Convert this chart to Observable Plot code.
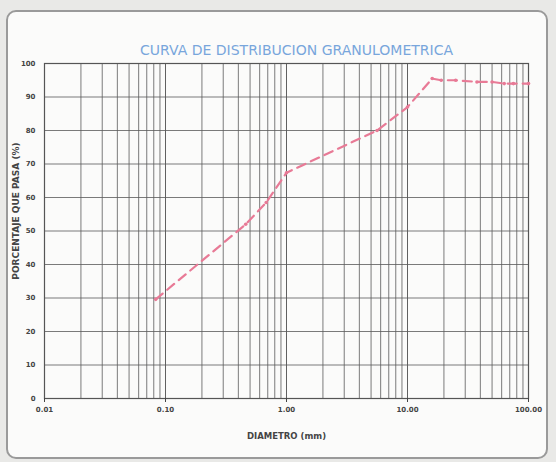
<!DOCTYPE html>
<html>
<head>
<meta charset="utf-8">
<script src="https://cdn.jsdelivr.net/npm/d3@7"></script>
<script src="https://cdn.jsdelivr.net/npm/@observablehq/plot@0.6"></script>
<style>
  html, body { margin: 0; padding: 0; background: #e9e9e7; }
  #wrap { position: relative; width: 556px; height: 462px; overflow: hidden; }
  #card { position: absolute; left: 6px; top: 10px; width: 538px; height: 445px;
          border: 2px solid #9a9a9a; border-radius: 10px; background: #fbfbfa; }
  #chart { position: absolute; left: 0; top: 0; }
</style>
</head>
<body>
<div id="wrap"><div id="card"></div><div id="chart"></div></div>
<script>
// Data
const diametro = [0.083, 0.46, 0.68, 1.0, 5.6, 10, 16, 19, 25, 37.5, 50, 63, 75, 100];
const pasa     = [29.6, 52, 58.5, 67.4, 80, 87, 95.5, 95, 95, 94.5, 94.5, 94, 94, 94];
const xTicks = [0.01, 0.1, 1, 10, 100];
const yTicks = [0, 10, 20, 30, 40, 50, 60, 70, 80, 90, 100];
const title = "CURVA DE DISTRIBUCION GRANULOMETRICA";
const xLabel = "DIAMETRO (mm)";
const yLabel = "PORCENTAJE QUE PASA (%)";

const data = diametro.map((d, i) => ({d, p: pasa[i]}));
const minor = [];
for (const dec of [0.01, 0.1, 1, 10]) for (let k = 1; k <= 10; k++) minor.push(+(dec * k).toPrecision(6));

const chart = Plot.plot({
  width: 556, height: 462,
  marginLeft: 44, marginRight: 28, marginTop: 63, marginBottom: 64,
  style: {background: "transparent", fontFamily: "DejaVu Sans", fontSize: "7px", color: "#444"},
  x: {type: "log", domain: [0.01, 100], label: null},
  y: {domain: [0, 100], label: null},
  marks: [
    Plot.ruleX(minor, {stroke: "#5a5a5a", strokeWidth: 1, strokeOpacity: 0.8}),
    Plot.ruleY(yTicks, {stroke: "#5a5a5a", strokeWidth: 1, strokeOpacity: 0.8}),
    Plot.frame({stroke: "#555", strokeWidth: 1.2}),
    Plot.axisX({ticks: xTicks, tickFormat: d3.format(".2f"), tickSize: 4, label: null, fontWeight: "bold"}),
    Plot.axisY({ticks: yTicks, tickSize: 0, label: null, fontWeight: "bold"}),
    Plot.line(data, {x: "d", y: "p", stroke: "#e87a96", strokeWidth: 2.2, strokeDasharray: "9,6"}),
    Plot.dot(data, {x: "d", y: "p", r: 1.8, fill: "#e87a96"}),
    Plot.text([title], {frameAnchor: "top", dy: -18, dx: 10, fill: "#78a6dc", fontSize: 14, fontFamily: "DejaVu Sans"}),
    Plot.text([xLabel], {frameAnchor: "bottom", dy: 40, fill: "#444", fontSize: 8.5, fontWeight: "bold"}),
    Plot.text([yLabel], {frameAnchor: "left", dx: -28, dy: -20, rotate: -90, textAnchor: "middle", fill: "#444", fontSize: 9, fontWeight: "bold"})
  ]
});
document.getElementById("chart").appendChild(chart);
</script>
</body>
</html>
